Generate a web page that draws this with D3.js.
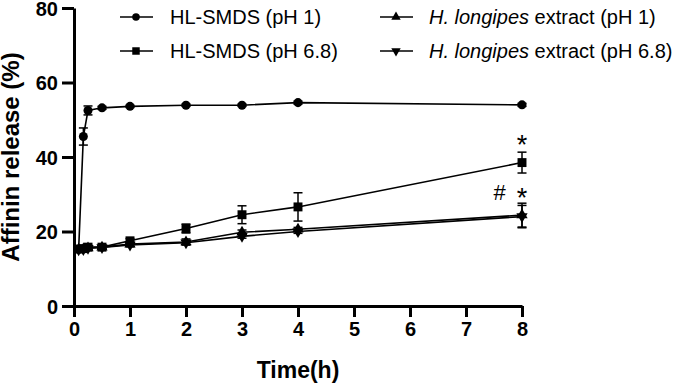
<!DOCTYPE html>
<html>
<head>
<meta charset="utf-8">
<script src="https://cdn.jsdelivr.net/npm/d3@7"></script>
<style>
  body { margin: 0; background: #fff; }
  svg { display: block; font-family: "Liberation Sans", Arial, sans-serif; }
</style>
</head>
<body>
<div id="chart"></div>
<script>
// sampling times (h)
const times = [0.083, 0.167, 0.25, 0.5, 1, 2, 3, 4, 8];

// release (%) and SD per series
const smdsPH1 = [15.2, 45.5, 52.5, 53.2, 53.6, 53.9, 53.9, 54.6, 54.0];
const smdsPH1Err = [0.4, 2.3, 1.2, 0.4, 0.3, 0.3, 0.3, 0.4, 0.4];
const smdsPH68 = [15.3, 15.4, 15.8, 15.8, 17.5, 20.8, 24.5, 26.6, 38.5];
const smdsPH68Err = [0.4, 0.4, 0.5, 0.4, 0.6, 1.2, 2.4, 3.8, 2.8];
const extPH1 = [15.2, 15.3, 15.6, 15.8, 16.6, 17.2, 19.8, 20.6, 24.4];
const extPH1Err = [0.4, 0.4, 0.4, 0.4, 0.6, 0.8, 0.6, 0.5, 3.2];
const extPH68 = [15.1, 15.2, 15.5, 15.7, 16.4, 17.0, 18.7, 20.0, 24.0];
const extPH68Err = [0.4, 0.4, 0.4, 0.4, 0.5, 0.6, 0.5, 0.5, 3.0];

const xTicks = [0, 1, 2, 3, 4, 5, 6, 7, 8];
const yTicks = [0, 20, 40, 60, 80];

// significance marks: [time, value, text]
const marks = [[8, 44.8, "*"], [8, 30.6, "*"], [7.6, 30.6, "#"]];

const width = 685, height = 385;
const margin = { top: 8, right: 163, bottom: 79, left: 74 };
const innerWidth = width - margin.left - margin.right;
const innerHeight = height - margin.top - margin.bottom;

const svg = d3.select("#chart")
    .append("svg")
    .attr("width", width)
    .attr("height", height);

const g = svg.append("g")
    .attr("transform", `translate(${margin.left}, ${margin.top})`);

const xScale = d3.scaleLinear().domain([0, 8]).range([0, innerWidth]);
const yScale = d3.scaleLinear().domain([0, 80]).range([innerHeight, 0]);

// axes
const xAxis = g.append("g")
    .attr("transform", `translate(0, ${innerHeight})`)
    .call(d3.axisBottom(xScale).tickValues(xTicks).tickSize(11).tickPadding(5).tickSizeOuter(0));

const yAxis = g.append("g")
    .call(d3.axisLeft(yScale).tickValues(yTicks).tickSize(12).tickPadding(4).tickSizeOuter(0));

[xAxis, yAxis].forEach(ax => {
    ax.select(".domain").attr("stroke", "#000").attr("stroke-width", 3);
    ax.selectAll(".tick line").attr("stroke", "#000").attr("stroke-width", 3);
    ax.selectAll(".tick text")
        .attr("fill", "#000")
        .style("font-family", '"Liberation Sans", Arial, sans-serif')
        .style("font-size", "20px")
        .style("font-weight", "bold");
});
yAxis.selectAll(".tick text").attr("dy", "0.36em");

// axis titles
g.append("text")
    .text("Time(h)")
    .attr("x", innerWidth / 2)
    .attr("y", innerHeight + 72)
    .style("font-size", "23px")
    .style("font-weight", "bold")
    .style("text-anchor", "middle");

g.append("text")
    .text("Affinin release (%)")
    .attr("transform", `translate(${19 - margin.left}, ${innerHeight / 2}) rotate(-90)`)
    .style("font-size", "24px")
    .style("font-weight", "bold")
    .style("text-anchor", "middle");

const series = [
    { name: "HL-SMDS (pH 1)", values: smdsPH1, err: smdsPH1Err, shape: d3.symbolCircle, size: 64, rot: 0 },
    { name: "H. longipes|extract (pH 1)", values: extPH1, err: extPH1Err, shape: d3.symbolTriangle, size: 55, rot: 0 },
    { name: "H. longipes|extract (pH 6.8)", values: extPH68, err: extPH68Err, shape: d3.symbolTriangle, size: 55, rot: 180 },
    { name: "HL-SMDS (pH 6.8)", values: smdsPH68, err: smdsPH68Err, shape: d3.symbolSquare, size: 80, rot: 0 }
];

const line = d3.line()
    .x((d, i) => xScale(times[i]))
    .y(d => yScale(d));

series.forEach(s => {
    g.append("path")
        .datum(s.values)
        .attr("fill", "none")
        .attr("stroke", "#000")
        .attr("stroke-width", 1.6)
        .attr("d", line);
});

series.forEach(s => {
    const eb = g.append("g").attr("stroke", "#000").attr("stroke-width", 1.5);
    s.values.forEach((v, i) => {
        const x = xScale(times[i]);
        const y0 = yScale(v - s.err[i]), y1 = yScale(v + s.err[i]);
        eb.append("line").attr("x1", x).attr("x2", x).attr("y1", y0).attr("y2", y1);
        eb.append("line").attr("x1", x - 4.5).attr("x2", x + 4.5).attr("y1", y0).attr("y2", y0);
        eb.append("line").attr("x1", x - 4.5).attr("x2", x + 4.5).attr("y1", y1).attr("y2", y1);
    });
});

series.forEach(s => {
    g.selectAll(null)
        .data(s.values)
        .enter()
        .append("path")
        .attr("d", d3.symbol().type(s.shape).size(s.size))
        .attr("transform", (d, i) => `translate(${xScale(times[i])}, ${yScale(d)}) rotate(${s.rot})`)
        .attr("fill", "#000");
});

// significance marks
g.selectAll(".mark")
    .data(marks)
    .enter()
    .append("text")
    .attr("class", "mark")
    .attr("x", d => xScale(d[0]))
    .attr("y", d => yScale(d[1]))
    .attr("dy", d => d[2] === "*" ? "0.56em" : "0.36em")
    .style("font-size", d => d[2] === "*" ? "27px" : "22px")
    .style("text-anchor", "middle")
    .text(d => d[2]);

// legend
const legendItems = [
    { s: series[0], x: 120, y: 17 },
    { s: series[3], x: 120, y: 51 },
    { s: series[1], x: 380, y: 17 },
    { s: series[2], x: 380, y: 51 }
];

const legend = svg.append("g").attr("class", "chart-legend");
legendItems.forEach(it => {
    const row = legend.append("g").attr("transform", `translate(${it.x}, ${it.y})`);
    row.append("line")
        .attr("x1", 0).attr("x2", 33)
        .attr("stroke", "#000").attr("stroke-width", 1.6);
    row.append("path")
        .attr("d", d3.symbol().type(it.s.shape).size(it.s.size * 0.7))
        .attr("transform", `translate(16, 0) rotate(${it.s.rot})`)
        .attr("fill", "#000");
    const t = row.append("text")
        .attr("x", it.x === 120 ? 50 : 49)
        .attr("y", 0)
        .attr("dy", "0.36em")
        .style("font-size", "20px")
        .style("fill", "#000");
    const parts = it.s.name.split("|");
    if (parts.length > 1) {
        t.append("tspan").style("font-style", "italic").text(parts[0]);
        t.append("tspan").text(" " + parts[1]);
    } else {
        t.text(parts[0]);
    }
});
</script>
</body>
</html>
